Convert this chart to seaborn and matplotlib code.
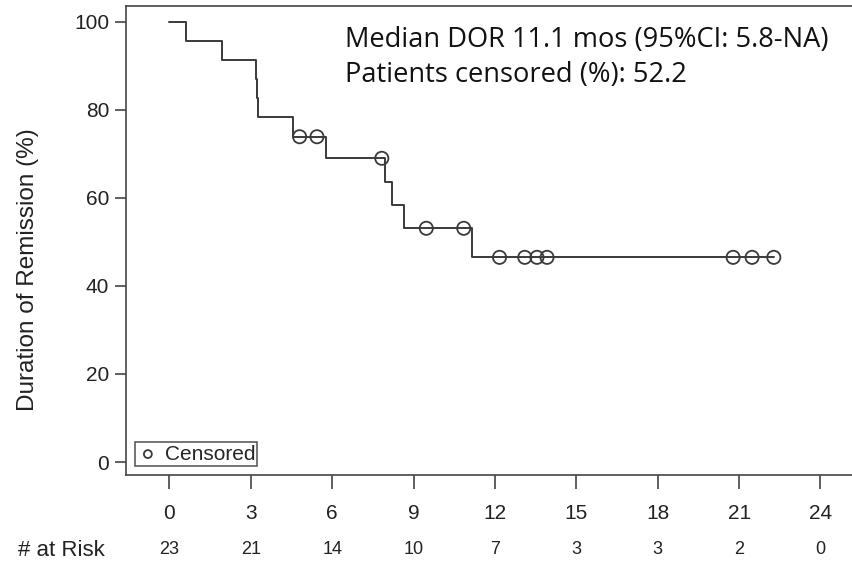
import matplotlib
matplotlib.use("Agg")

import numpy as np
import pandas as pd
import matplotlib.pyplot as plt
import matplotlib.transforms as mtransforms
import seaborn as sns

# ── Data ─────────────────────────────────────────────────────────────────────
step_months = [0, 0.61, 1.95, 3.2, 3.22, 3.25, 4.57, 5.77, 7.96, 8.2, 8.63, 11.15, 22.28]
step_pct    = [100, 95.7, 91.3, 87.0, 82.6, 78.3, 73.9, 69.0, 63.7, 58.4, 53.1, 46.5, 46.5]

cens_months = [4.8, 5.44, 7.83, 9.47, 10.85, 12.17, 13.1, 13.55, 13.92, 20.78, 21.48, 22.28]
cens_pct    = [73.9, 73.9, 69.0, 53.1, 53.1, 46.5, 46.5, 46.5, 46.5, 46.5, 46.5, 46.5]

risk_months = [0, 3, 6, 9, 12, 15, 18, 21, 24]
at_risk     = [23, 21, 14, 10, 7, 3, 3, 2, 0]

median_text = "Median DOR 11.1 mos (95%CI: 5.8-NA)"
censor_text = "Patients censored (%): 52.2"

# ── Style ────────────────────────────────────────────────────────────────────
sns.set_style("ticks")
plt.rcParams["font.family"] = ["Liberation Sans", "DejaVu Sans"]
line_col = "#3a3a3a"
txt_col = "#222222"

fig = plt.figure(figsize=(8.53, 5.65), dpi=100)
ax = fig.add_axes([126 / 853, 1 - 475 / 565, 1 - 126 / 853, (475 - 6) / 565])

curve = pd.DataFrame({"month": step_months, "pct": step_pct})
cens = pd.DataFrame({"month": cens_months, "pct": cens_pct})

sns.lineplot(data=curve, x="month", y="pct", drawstyle="steps-post",
             color=line_col, linewidth=1.4, ax=ax)
sns.scatterplot(data=cens, x="month", y="pct", marker="o", s=90,
                facecolor="none", edgecolor=line_col, linewidth=1.3,
                label="Censored", ax=ax, zorder=3)

ax.set_xlim(-1.6, 25.2)
ax.set_ylim(-2.95, 103.6)
ax.set_xticks(risk_months)
ax.set_yticks([0, 20, 40, 60, 80, 100])
ax.set_xlabel("")
ax.set_ylabel("")

for side in ["left", "bottom", "top"]:
    ax.spines[side].set_color("#444444")
    ax.spines[side].set_linewidth(1.2)
ax.spines["right"].set_visible(False)
ax.tick_params(axis="both", colors="#444444", labelcolor=txt_col, labelsize=15,
               width=1.2)
ax.tick_params(axis="x", length=10, pad=11)
ax.tick_params(axis="y", length=8, pad=4)

leg = ax.legend(loc="lower left", frameon=True, fontsize=15, handletextpad=0.3,
                borderpad=0.1, borderaxespad=0.45, handlelength=1.0,
                markerscale=0.6, fancybox=False)
leg.get_frame().set_edgecolor("#333333")
leg.get_frame().set_linewidth(1.2)

fig.text(28 / 853, 1 - 270 / 565, "Duration of Remission (%)", rotation=90,
         ha="center", va="center", fontsize=17.5, color=txt_col)

ax.text(345 / 853, 1 - 40 / 565, median_text, transform=fig.transFigure,
        fontsize=19.6, family=["Open Sans", "DejaVu Sans"], color="#111111", va="center")
ax.text(345 / 853, 1 - 75 / 565, censor_text, transform=fig.transFigure,
        fontsize=19.6, family=["Open Sans", "DejaVu Sans"], color="#111111", va="center")

# ── Number-at-risk row ───────────────────────────────────────────────────────
trans = mtransforms.blended_transform_factory(ax.transData, fig.transFigure)
for m, n in zip(risk_months, at_risk):
    ax.text(m, 1 - 550 / 565, str(n), transform=trans, ha="center", va="center",
            fontsize=13, color=txt_col)
fig.text(18 / 853, 1 - 550 / 565, "# at Risk", ha="left", va="center",
         fontsize=16, color=txt_col)

fig.savefig("out.png", dpi=100)
plt.close(fig)
